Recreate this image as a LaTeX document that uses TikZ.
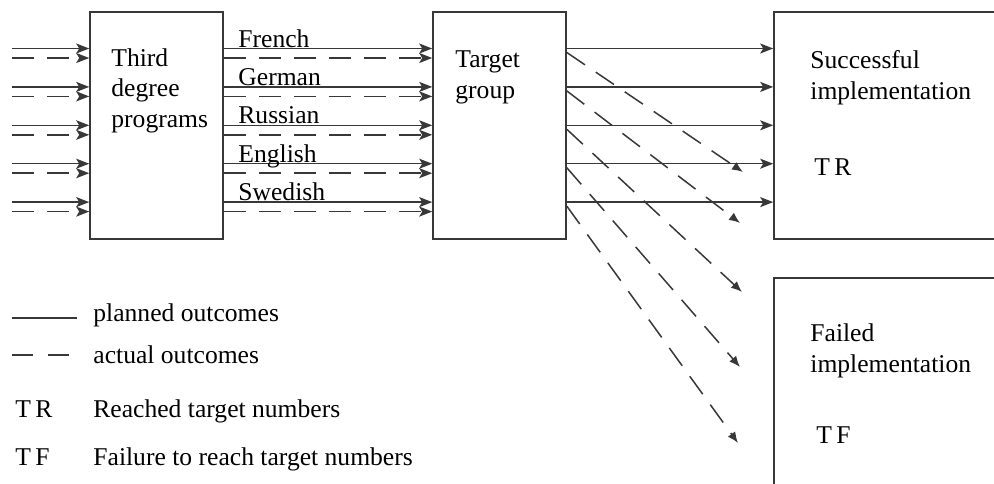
\documentclass[tikz,border=0pt]{standalone}
\usepackage{fontspec}
\setmainfont{Liberation Serif}
\usetikzlibrary{arrows.meta}

\colorlet{ink}{black!78}
\tikzset{
  box/.style={draw=ink, line width=0.8pt, inner sep=0pt},
  plan/.style={draw=ink, line width=0.75pt, -{Stealth[length=6.5pt, width=5pt, inset=1.5pt]}},
  actual/.style={draw=ink, line width=0.75pt, dash pattern=on 11pt off 6.5pt, -{Stealth[length=6.5pt, width=5pt, inset=1.5pt]}},
  failing/.style={actual, -{Latex[length=5.5pt, width=4.5pt]}},
  legline/.style={draw=ink, line width=0.75pt},
  lbl/.style={anchor=base west, inner sep=0pt, align=left},
}

\begin{document}
\begin{tikzpicture}[x=0.5pt, y=-0.5pt, font=\fontsize{12.8}{15.2}\selectfont]
\useasboundingbox (0,0) rectangle (994,483);
\clip (0,0) rectangle (994,483);

% boxes
\node[box, minimum width=66.5pt, minimum height=113.5pt] (prog) at (156.5,125.5) {};
\node[box, minimum width=66.5pt, minimum height=113.5pt] (target) at (499.5,125.5) {};
\node[box, minimum width=130pt, minimum height=113.5pt] (success) at (904,125.5) {};
\node[box, minimum width=130pt, minimum height=125pt] (failed) at (904,403) {};

% texts (base = last line)
\node[lbl] (progtxt) at (111,127) {Third\\degree\\programs};
\node[lbl] (targettxt) at (455,98) {Target\\group};
\node[lbl] (successtxt) at (810,99) {Successful\\implementation};
\node[lbl] (tr) at (814,175) {T\,R};
\node[lbl] (failedtxt) at (810,372) {Failed\\implementation};
\node[lbl] (tf) at (816,443) {T\,F};

% rows of outcomes
\foreach \i/\lang in {1/French, 2/German, 3/Russian, 4/English, 5/Swedish} {
    \pgfmathsetmacro\y{48.5+38.4*(\i-1)}
    \coordinate (row\i) at (0,\y);
    \coordinate (dash\i) at (0,\y+9.5);
    \coordinate (out\i) at (0,\y+4);
    \coordinate (in\i) at (12,\y);
    \draw[plan] (in\i) -- (prog.west |- row\i);
    \draw[actual] (in\i |- dash\i) -- (prog.west |- dash\i);
    \draw[plan] (prog.east |- row\i) -- (target.west |- row\i);
    \draw[actual] (prog.east |- dash\i) -- (target.west |- dash\i);
    \node[lbl] (lang\i) at (238,\y-1.5) {\lang};
    \draw[plan] (target.east |- row\i) -- (success.west |- row\i);
}

% actual outcomes leaving the target group
\foreach \i/\ex/\ey in {1/743/172, 2/740/223, 3/742/292, 4/740/367, 5/738/443} {
    \coordinate (end\i) at (\ex,\ey);
    \draw[failing] (target.east |- out\i) -- (end\i);
}

% legend
\coordinate (pl) at (12,318);
\coordinate (ac) at (12,355);
\node[lbl] (plantxt) at (93,321) {planned outcomes};
\node[lbl] (acttxt) at (93,363) {actual outcomes};
\draw[legline, shorten >=8pt] (pl) -- (pl -| plantxt.west);
\draw[legline, dash pattern=on 10.5pt off 7.5pt, shorten >=11.5pt] (ac) -- (ac -| acttxt.west);
\node[lbl] (trkey) at (15,417) {T\,R};
\node[lbl] (trtxt) at (93,417) {Reached target numbers};
\node[lbl] (tfkey) at (15,465) {T\,F};
\node[lbl] (tftxt) at (93,465) {Failure to reach target numbers};
\end{tikzpicture}
\end{document}
